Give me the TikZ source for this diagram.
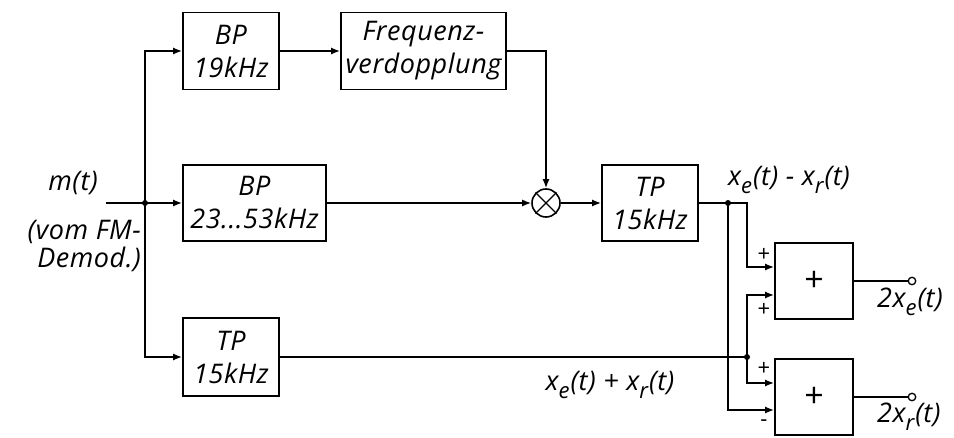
\documentclass[tikz,border=0pt]{standalone}
\usepackage{fontspec}
\setmainfont{Open Sans}[LetterSpace=2]
\usetikzlibrary{arrows.meta,calc}
% lowered subscript in the label font
\newcommand{\lo}[1]{\raisebox{-0.3em}{\fontsize{22}{22}\selectfont #1}\kern1pt}
\begin{document}
\begin{tikzpicture}[x=1pt,y=-1pt,
  every node/.style={font=\fontsize{27}{33}\selectfont\itshape},
  wire/.style={line width=1.6pt},
  sig/.style={wire,-{Latex[length=9pt,width=7pt]}},
  blk/.style={draw,line width=1.7pt,align=center,inner sep=0pt},
  dot/.style={fill,circle,inner sep=0pt,minimum size=6pt},
  term/.style={draw,fill=white,circle,line width=1.3pt,inner sep=0pt,minimum size=7.5pt},
  sgn/.style={font=\fontsize{22}{22}\selectfont,inner sep=0pt}]
\useasboundingbox (0,0) rectangle (954,438);

% filter blocks
\node[blk,minimum width=96,minimum height=77] (bp19) at (231,51) {BP\\19kHz};
\node[blk,minimum width=165,minimum height=77] (fv) at (423.5,51) {Frequenz-\\verdopplung};
\node[blk,minimum width=143,minimum height=76] (bp23) at (254.5,203) {BP\\23...53kHz};
\node[blk,minimum width=96,minimum height=78] (tp1) at (231,357) {TP\\15kHz};
\node[blk,minimum width=96,minimum height=76] (tp2) at (650,203) {TP\\15kHz};

% multiplier
\node[draw,circle,line width=1.6pt,minimum size=28pt,inner sep=0pt] (mul) at (546,203) {};
\draw[line width=1.4pt] (mul.north west) -- (mul.south east) (mul.north east) -- (mul.south west);

% adders
\node[blk,minimum width=78,minimum height=76,font=\fontsize{34}{34}\selectfont] (add1) at (814,281) {+};
\node[blk,minimum width=78,minimum height=76,font=\fontsize{34}{34}\selectfont] (add2) at (814,397) {+};

% input and branching
\coordinate (in) at (106,203);
\node[dot] (j1) at (145,203) {};
\draw[sig] (in) -- (bp23.west);
\draw[sig] (j1.center) |- (bp19.west);
\draw[sig] (j1.center) |- (tp1.west);

% upper path
\draw[sig] (bp19.east) -- (fv.west);
\draw[sig] (fv.east) -| (mul.north);
\draw[sig] (bp23.east) -- (mul.west);
\draw[sig] (mul.east) -- (tp2.west);

% adder inputs
\coordinate (a1u) at ($(add1.west)+(0,-14)$);
\coordinate (a1d) at ($(add1.west)+(0,14)$);
\coordinate (a2u) at ($(add2.west)+(0,-14)$);
\coordinate (a2d) at ($(add2.west)+(0,13)$);
\coordinate (k1) at (747,267);
\coordinate (k2) at (747,295);
\coordinate (k3) at (747,383);
\coordinate (k4) at (728,410);
\node[dot] (j2) at (728,203) {};
\node[dot] (j3) at (747,357) {};

\draw[wire] (tp2.east) -- (j2.center);
\draw[sig] (j2.center) -| (k1) -- (a1u);
\draw[sig] (j2.center) -- (k4) -- (a2d);
\draw[wire] (tp1.east) -- (j3.center);
\draw[sig] (j3.center) -- (k2) -- (a1d);
\draw[sig] (j3.center) -- (k3) -- (a2u);

% signs at the adder inputs
\node[sgn] (s1) at (764,255) {+};
\node[sgn] (s2) at (764,310) {+};
\node[sgn] (s3) at (764,369) {+};
\node[sgn] (s4) at (764,423) {-};

% outputs
\node[term] (o1) at (912,281) {};
\node[term] (o2) at (912,397) {};
\draw[wire] (add1.east) -- (o1);
\draw[wire] (add2.east) -- (o2);

% labels
\node (lm) at (73,183) {m(t)};
\node[anchor=east,align=right,inner sep=0pt,font=\fontsize{27}{28}\selectfont\itshape] (lvom) at (141,246) {(vom FM-\\Demod.)};
\node (ldiff) at (789,180) {x\lo{e}(t) - x\lo{r}(t)};
\node (lsum) at (610,385) {x\lo{e}(t) + x\lo{r}(t)};
\node[anchor=west,inner sep=0pt] (lo1) at (877,302) {2x\lo{e}(t)};
\node[anchor=west,inner sep=0pt] (lo2) at (877,417) {2x\lo{r}(t)};
\end{tikzpicture}
\end{document}
